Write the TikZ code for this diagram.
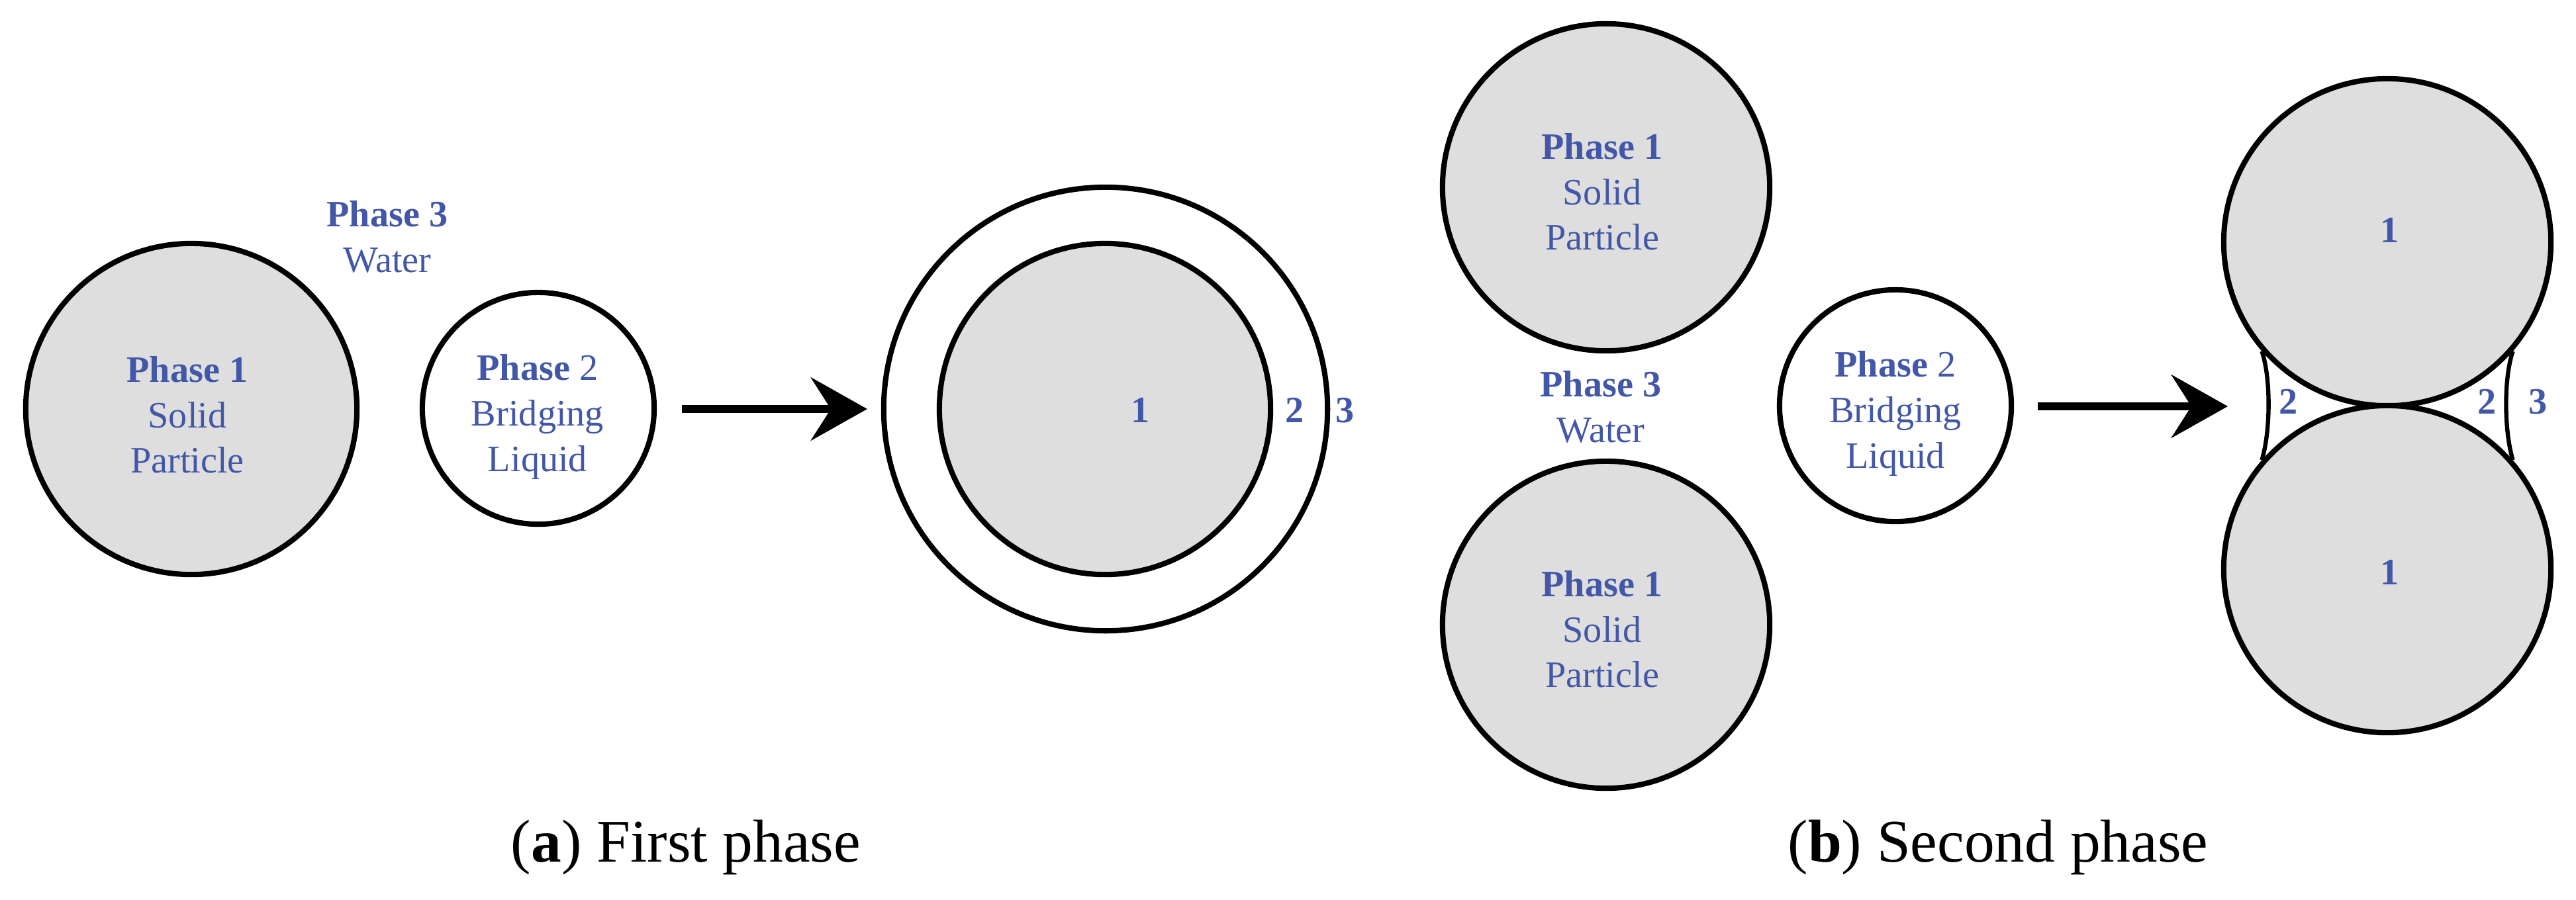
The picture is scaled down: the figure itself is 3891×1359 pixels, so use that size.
\documentclass[tikz,border=0pt]{standalone}
\usepackage{fontspec}
\setmainfont{Liberation Serif}
\usetikzlibrary{arrows.meta}
\definecolor{lblue}{HTML}{4257A8}
\begin{document}
\begin{tikzpicture}[x=0.01cm,y=-0.01cm,
  solidp/.style={circle,draw=black,line width=2.3pt,fill=black!13,inner sep=0pt},
  liquid/.style={circle,draw=black,line width=2.3pt,fill=white,inner sep=0pt},
  lbl/.style={text=lblue,font=\fontsize{16}{19.5}\selectfont,align=center},
  num/.style={text=lblue,font=\fontsize{16}{19}\selectfont\bfseries},
  bigarrow/.style={line width=3.6pt,-{Stealth[length=0.85cm,width=0.95cm,inset=0.3cm]}},
  captxt/.style={font=\fontsize{26}{30}\selectfont}]
\useasboundingbox (0,0) rectangle (3891,1359);
% ---- (a)
\node[solidp,minimum size=5cm] (a1) at (289,618) {};
\node[lbl] (a1t) at (283,627) {\textbf{Phase 1}\\Solid\\Particle};
\node[lbl] (a3t) at (585,358) {\textbf{Phase 3}\\Water};
\node[liquid,minimum size=3.5cm] (a2) at (813,617) {};
\node[lbl] (a2t) at (812,630) {\textbf{Phase} 2\\Bridging\\Liquid};
\coordinate (aas) at (1030,618);
\coordinate (aae) at (1310,618);
\draw[bigarrow] (aas) -- (aae);
\node[liquid,minimum size=6.7cm] (ao) at (1670,618) {};
\node[solidp,minimum size=5cm] (ai) at (1669,618) {};
\node[num] (an1) at (1723,620) {1};
\node[num] (an2) at (1956,620) {2};
\node[num] (an3) at (2032,620) {3};
\node[captxt] (capa) at (1036,1280) {(\textbf{a}) First phase};
% ---- (b)
\node[solidp,minimum size=4.94cm] (b1) at (2426,283) {};
\node[lbl] (b1t) at (2420,290) {\textbf{Phase 1}\\Solid\\Particle};
\node[lbl] (b3t) at (2418,615) {\textbf{Phase 3}\\Water};
\node[solidp,minimum size=4.94cm] (b4) at (2426,944) {};
\node[lbl] (b4t) at (2420,951) {\textbf{Phase 1}\\Solid\\Particle};
\node[liquid,minimum size=3.5cm] (b2) at (2863,613) {};
\node[lbl] (b2t) at (2863,625) {\textbf{Phase} 2\\Bridging\\Liquid};
\coordinate (bas) at (3078,614);
\coordinate (bae) at (3365,614);
\draw[bigarrow] (bas) -- (bae);
\node[solidp,minimum size=4.94cm] (bt) at (3606,366) {};
\node[solidp,minimum size=4.94cm] (bb) at (3606,860) {};
\draw[line width=1.8pt] (bt.221) .. controls (3430,570) and (3430,650) .. (bb.139);
\draw[line width=1.8pt] (bt.319) .. controls (3782,570) and (3782,650) .. (bb.41);
\node[num] (bn1) at (3610,348) {1};
\node[num] (bn4) at (3610,865) {1};
\node[num] (bn2) at (3457,607) {2};
\node[num] (bn3) at (3757,607) {2};
\node[num] (bn5) at (3834,607) {3};
\node[captxt] (capb) at (3018,1280) {(\textbf{b}) Second phase};
\end{tikzpicture}
\end{document}
